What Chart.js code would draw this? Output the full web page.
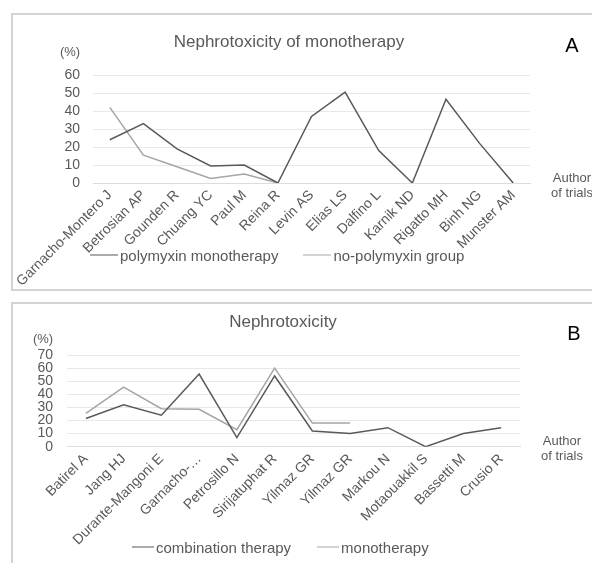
<!DOCTYPE html>
<html>
<head>
<meta charset="utf-8">
<script src="https://cdn.jsdelivr.net/npm/chart.js"></script>
<style>
  body { margin: 0; width: 592px; height: 563px; overflow: hidden; background: #fff; position: relative;
         font-family: "Liberation Sans", Arial, sans-serif; color: #595959; }
  .panel { position: absolute; left: 11px; width: 600px; border: 2px solid #d4d4d4; border-right: none; box-sizing: border-box; }
  #panelA { top: 13px; height: 278px; }
  #panelB { top: 302px; height: 300px; }
  canvas { position: absolute; left: 0; }
  .txt { position: absolute; white-space: nowrap; transform: translate(-50%, -50%); }
  .unit { font-size: 13px; }
  .tag { font-size: 20px; color: #000; }
  .axisName { font-size: 13px; line-height: 15px; text-align: center; transform: translate(-50%, 0); }
  .legend { position: absolute; display: flex; align-items: center; font-size: 15px; white-space: nowrap; transform: translateY(-50%); }
  .legend .sw { display: inline-block; height: 0; border-top: 1.5px solid; margin-right: 2px; }
  .legend .item { display: flex; align-items: center; }
</style>
</head>
<body>
<div class="panel" id="panelA"></div>
<div class="panel" id="panelB"></div>
<canvas id="chartA" width="592" height="290" style="top:0"></canvas>
<canvas id="chartB" width="592" height="273" style="top:290px"></canvas>

<div class="txt unit" style="left:70px; top:51px">(%)</div>
<div class="txt tag" style="left:572px; top:45px">A</div>
<div class="txt axisName" style="left:572px; top:170px">Author<br>of trials</div>
<div class="legend" id="legendA" style="left:90px; top:255px"></div>

<div class="txt unit" style="left:43px; top:338px">(%)</div>
<div class="txt tag" style="left:574px; top:333px">B</div>
<div class="txt axisName" style="left:562px; top:433px">Author<br>of trials</div>
<div class="legend" id="legendB" style="left:132px; top:547px"></div>

<script>
// panel A: monotherapy trials
const authorsA = ['Garnacho-Montero J', 'Betrosian AP', 'Gounden R', 'Chuang YC', 'Paul M', 'Reina R',
  'Levin AS', 'Elias LS', 'Dalfino L', 'Karnik ND', 'Rigatto MH', 'Binh NG', 'Munster AM'];
const polymyxinMono = [24, 33, 19, 9.5, 10, 0, 37, 50.5, 18, 0, 46.5, 22, 0];
const noPolymyxin = [42, 15.5, 9, 2.5, 5, 0, null, null, null, null, null, null, null];

// panel B: combination vs monotherapy
const authorsB = ['Batirel A', 'Jang HJ', 'Durante-Mangoni E', 'Garnacho-…', 'Petrosillo N', 'Sirijatuphat R',
  'Yilmaz GR', 'Yilmaz GR', 'Markou N', 'Motaouakkil S', 'Bassetti M', 'Crusio R'];
const combination = [21.5, 32, 24, 55.5, 7, 54, 12, 10, 14.5, 0, 10, 14.5];
const monotherapy = [25.5, 45.5, 29, 28.5, 13, 60, 18, 18, null, null, null, null];

const yMaxA = 60;
const yMaxB = 70;

const dark = '#595959';
const light = '#a5a5a5';

Chart.defaults.font.family = '"Liberation Sans", Arial, sans-serif';
Chart.defaults.color = dark;

function lineChart(id, labels, series, o) {
  return new Chart(document.getElementById(id), {
    type: 'line',
    data: {
      labels: labels,
      datasets: series.map(s => ({
        label: s.label,
        data: s.data,
        borderColor: s.color,
        backgroundColor: s.color,
        borderWidth: 1.5,
        pointRadius: 0,
        tension: 0
      }))
    },
    options: {
      responsive: false,
      animation: false,
      layout: { padding: { left: o.padLeft, right: o.padRight, top: 0, bottom: 0 } },
      plugins: {
        legend: { display: false },
        tooltip: { enabled: false },
        title: {
          display: true,
          text: o.title,
          color: dark,
          font: { size: 17, weight: 'normal' },
          padding: { top: o.titleTop, bottom: o.titleBottom }
        }
      },
      scales: {
        x: {
          offset: true,
          grid: { display: false, drawTicks: false },
          border: { color: '#dcdcdc' },
          ticks: { autoSkip: false, minRotation: 45, maxRotation: 45, font: { size: 14 }, padding: 4 },
          afterFit: s => { s.height = o.xHeight; }
        },
        y: {
          min: 0,
          max: o.yMax,
          ticks: { stepSize: 10, autoSkip: false, font: { size: 14 }, padding: o.tickPad },
          grid: { color: '#e8e8e8', drawTicks: false },
          border: { display: false },
          afterFit: s => { s.width = o.yWidth; }
        },
        // empty strip on the right so the title centres over the plot plus the side labels
        yPad: {
          position: 'right',
          grid: { display: false },
          ticks: { display: false },
          border: { display: false },
          afterFit: s => { s.width = o.rightStrip; }
        }
      }
    }
  });
}

function buildLegend(el, chart, swatch, gap) {
  chart.data.datasets.forEach((ds, i) => {
    const item = document.createElement('span');
    item.className = 'item';
    if (i > 0) item.style.marginLeft = gap + 'px';
    const line = document.createElement('span');
    line.className = 'sw';
    line.style.width = swatch + 'px';
    line.style.borderColor = ds.borderColor;
    item.appendChild(line);
    item.appendChild(document.createTextNode(ds.label));
    el.appendChild(item);
  });
}

const chartA = lineChart('chartA', authorsA, [
  { label: 'polymyxin monotherapy', data: polymyxinMono, color: dark },
  { label: 'no-polymyxin group', data: noPolymyxin, color: light }
], { title: 'Nephrotoxicity of monotherapy', yMax: yMaxA, padLeft: 48, padRight: 62, xHeight: 107,
     titleTop: 32, titleBottom: 22.6, yWidth: 45, tickPad: 13, rightStrip: 0 });

const chartB = lineChart('chartB', authorsB, [
  { label: 'combination therapy', data: combination, color: dark },
  { label: 'monotherapy', data: monotherapy, color: light }
], { title: 'Nephrotoxicity', yMax: yMaxB, padLeft: 30, padRight: 56, xHeight: 116.3,
     titleTop: 21.8, titleBottom: 22.8, yWidth: 37, tickPad: 14, rightStrip: 16 });

buildLegend(document.getElementById('legendA'), chartA, 28, 25);
buildLegend(document.getElementById('legendB'), chartB, 22, 26);
</script>
</body>
</html>
